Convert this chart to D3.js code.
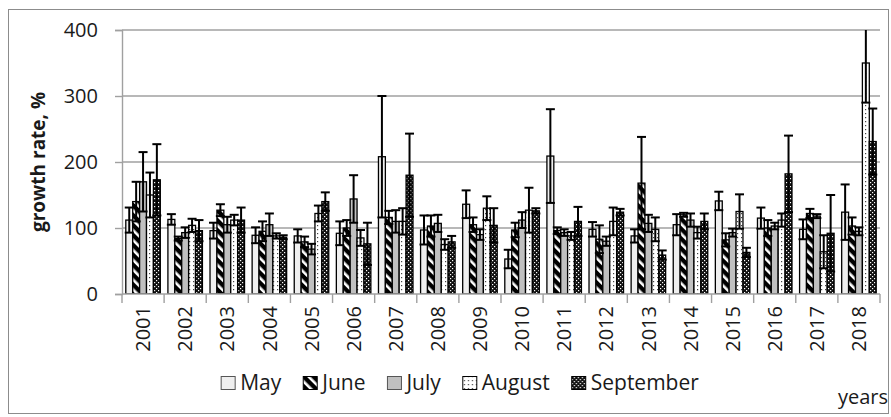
<!DOCTYPE html>
<html>
<head>
<meta charset="utf-8">
<script src="https://cdn.jsdelivr.net/npm/d3@7"></script>
<style>
  html, body { margin: 0; padding: 0; background: #fff; }
  svg { display: block; }
  text { font-family: "Open Sans", "Noto Sans", sans-serif; fill: #1a1a1a; }
</style>
</head>
<body>
<svg id="chart" width="891" height="417"></svg>
<script>
// Monthly growth rates (%) per year, with their standard errors
const years = ["2001","2002","2003","2004","2005","2006","2007","2008","2009",
               "2010","2011","2012","2013","2014","2015","2016","2017","2018"];
const months = ["May", "June", "July", "August", "September"];

const may       = [112,113, 96, 89, 88, 92,208, 97,136, 53,209, 98, 88,105,141,115, 98,124];
const mayErr    = [ 19,  8, 12, 12, 10, 18, 92, 22, 21, 14, 71, 11, 10, 16, 14, 16, 15, 42];
const june      = [140, 84,127, 95, 79,100,116,103,105, 97, 96, 83,168,120, 82,100,122,103];
const juneErr   = [ 30,  3,  9, 15,  8, 12, 10, 16, 11, 11,  5, 21, 70,  3, 10, 12,  7, 13];
const july      = [170, 93,105,105, 68,144,110,107, 90,112, 93, 80,107,112, 93,103,118, 95];
const julyErr   = [ 45,  8, 12, 17,  8, 36, 17, 13,  8, 12,  5,  7, 13, 10,  6,  5,  3,  6];
const august    = [150,104,112, 88,122, 85,110, 75,130,127, 88,110, 98, 93,125,112, 64,350];
const augustErr = [ 34, 10,  8,  4, 12, 12, 20,  8, 18, 34,  6, 21, 18,  9, 26, 10, 25, 60];
const september = [173, 96,112, 86,140, 76,180, 79,104,126,110,124, 59,110, 63,182, 92,231];
const septErr   = [ 54, 16, 19,  3, 14, 32, 63,  9, 26,  4, 22,  5,  7, 12,  7, 58, 58, 50];

const yTicks = [0, 100, 200, 300, 400];

const seriesValues = [may, june, july, august, september];
const seriesErrors = [mayErr, juneErr, julyErr, augustErr, septErr];

// Flat list of bars built from the arrays above
const bars = [];
years.forEach((yr, i) => {
  months.forEach((m, j) => {
    bars.push({ year: yr, month: m, value: seriesValues[j][i], err: seriesErrors[j][i] });
  });
});

const svg = d3.select("#chart");
const plot = { left: 122, right: 880, top: 30, bottom: 294 };

// Outer chart frame
svg.append("rect")
  .attr("x", 8.5).attr("y", 9.5)
  .attr("width", 880).attr("height", 404)
  .attr("fill", "#fff").attr("stroke", "#8c8c8c").attr("stroke-width", 1);

// Fill patterns for each month
const defs = svg.append("defs");

// June: black with white diagonal stripes
const pJune = defs.append("pattern").attr("id", "pat-june")
  .attr("patternUnits", "userSpaceOnUse").attr("width", 7).attr("height", 7)
  .attr("patternTransform", "rotate(-45)");
pJune.append("rect").attr("width", 7).attr("height", 7).attr("fill", "#000");
pJune.append("rect").attr("x", 0).attr("y", 0).attr("width", 2.6).attr("height", 7).attr("fill", "#fff");

// August: white with small dots
const pAug = defs.append("pattern").attr("id", "pat-august")
  .attr("patternUnits", "userSpaceOnUse").attr("width", 4).attr("height", 4);
pAug.append("rect").attr("width", 4).attr("height", 4).attr("fill", "#fff");
pAug.append("rect").attr("x", 1).attr("y", 1).attr("width", 1.2).attr("height", 1.2).attr("fill", "#444");

// September: dense dark checker
const pSep = defs.append("pattern").attr("id", "pat-september")
  .attr("patternUnits", "userSpaceOnUse").attr("width", 4).attr("height", 4);
pSep.append("rect").attr("width", 4).attr("height", 4).attr("fill", "#111");
pSep.append("rect").attr("x", 0).attr("y", 0).attr("width", 1.2).attr("height", 1.2).attr("fill", "#fff");
pSep.append("rect").attr("x", 2).attr("y", 2).attr("width", 1.2).attr("height", 1.2).attr("fill", "#fff");

const fills = {
  "May": "#efefef",
  "June": "url(#pat-june)",
  "July": "#c0c0c0",
  "August": "url(#pat-august)",
  "September": "url(#pat-september)"
};

defs.append("clipPath").attr("id", "plot-clip")
  .append("rect")
  .attr("x", plot.left).attr("y", plot.top)
  .attr("width", plot.right - plot.left).attr("height", plot.bottom - plot.top);

// Scales
const x0 = d3.scaleBand().domain(years).range([plot.left, plot.right]).padding(0);
const x1 = d3.scaleBand().domain(months).range([0, x0.bandwidth()])
  .paddingInner(0).paddingOuter(0.55);
const y = d3.scaleLinear().domain([0, 400]).range([plot.bottom, plot.top]);

// Horizontal gridlines
svg.append("g")
  .selectAll("line")
  .data(yTicks.filter(t => t > 0))
  .join("line")
  .attr("x1", plot.left).attr("x2", plot.right)
  .attr("y1", d => y(d)).attr("y2", d => y(d))
  .attr("stroke", "#a0a0a0").attr("stroke-width", 1.4);

// Y axis
const yAxis = svg.append("g")
  .attr("transform", `translate(${plot.left},0)`)
  .call(d3.axisLeft(y).tickValues(yTicks).tickSize(7).tickPadding(17));
yAxis.select(".domain").attr("stroke", "#a0a0a0").attr("stroke-width", 1.4);
yAxis.selectAll(".tick line").attr("stroke", "#a0a0a0").attr("stroke-width", 1.4);
yAxis.selectAll(".tick text")
  .style("font-family", "'Open Sans', sans-serif")
  .style("font-size", "20px").attr("fill", "#1a1a1a");

// Y axis title
svg.append("text")
  .attr("transform", `translate(45,162) rotate(-90)`)
  .attr("text-anchor", "middle")
  .style("font-size", "19px").style("font-weight", "bold")
  .text("growth rate, %");

// Bars
const barG = svg.append("g").attr("clip-path", "url(#plot-clip)");
barG.selectAll("rect")
  .data(bars)
  .join("rect")
  .attr("x", d => x0(d.year) + x1(d.month))
  .attr("y", d => y(d.value))
  .attr("width", x1.bandwidth())
  .attr("height", d => y(0) - y(d.value))
  .attr("fill", d => fills[d.month])
  .attr("stroke", "#000").attr("stroke-width", 1.3);

// Error bars (± error around each bar top)
const capHalf = 4.5;
const errG = svg.append("g").attr("clip-path", "url(#plot-clip)")
  .attr("stroke", "#000").attr("stroke-width", 2);
const eb = errG.selectAll("g").data(bars).join("g")
  .attr("transform", d => `translate(${x0(d.year) + x1(d.month) + x1.bandwidth() / 2},0)`);
eb.append("line")
  .attr("x1", 0).attr("x2", 0)
  .attr("y1", d => y(d.value + d.err)).attr("y2", d => y(Math.max(0, d.value - d.err)));
eb.append("line")
  .attr("x1", -capHalf).attr("x2", capHalf)
  .attr("y1", d => y(d.value + d.err)).attr("y2", d => y(d.value + d.err));
eb.append("line")
  .attr("x1", -capHalf).attr("x2", capHalf)
  .attr("y1", d => y(Math.max(0, d.value - d.err))).attr("y2", d => y(Math.max(0, d.value - d.err)));

// X axis with category separators
svg.append("line")
  .attr("x1", plot.left).attr("x2", plot.right)
  .attr("y1", plot.bottom).attr("y2", plot.bottom)
  .attr("stroke", "#a0a0a0").attr("stroke-width", 1.4);
svg.append("g").selectAll("line")
  .data(years.concat(["end"]))
  .join("line")
  .attr("x1", (d, i) => plot.left + i * x0.step())
  .attr("x2", (d, i) => plot.left + i * x0.step())
  .attr("y1", plot.bottom).attr("y2", plot.bottom + 9)
  .attr("stroke", "#a0a0a0").attr("stroke-width", 1.4);

// Rotated year labels
svg.append("g").selectAll("text")
  .data(years)
  .join("text")
  .attr("transform", d => `translate(${x0(d) + x0.bandwidth() / 2},306) rotate(-90)`)
  .attr("text-anchor", "end")
  .attr("dy", "0.36em")
  .style("font-size", "20px")
  .text(d => d);

// Legend
const legend = svg.append("g");
let lx = 0;
const itemGap = 22;
months.forEach(m => {
  const g = legend.append("g");
  g.append("rect").attr("x", 0).attr("y", -6.5).attr("width", 14).attr("height", 13)
    .attr("fill", fills[m]).attr("stroke", m === "May" || m === "July" ? "#555" : "#000")
    .attr("stroke-width", 1);
  const t = g.append("text").attr("x", 19).attr("dy", "0.35em")
    .style("font-size", "21px").text(m);
  const w = 19 + t.node().getComputedTextLength();
  g.attr("transform", `translate(${lx},0)`);
  lx += w + itemGap;
});
const legendWidth = lx - itemGap;
legend.attr("transform", `translate(${460 - legendWidth / 2},383)`);

// Category axis title
svg.append("text")
  .attr("x", 838).attr("y", 404)
  .style("font-size", "20px")
  .text("years");
</script>
</body>
</html>
